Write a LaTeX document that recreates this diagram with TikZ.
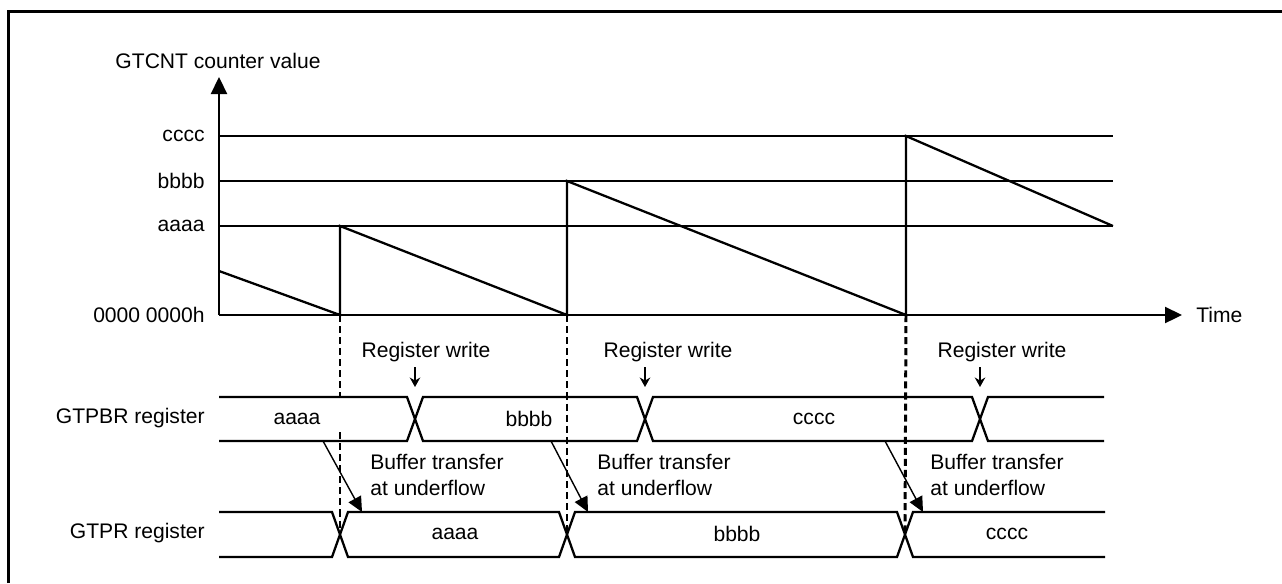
\documentclass[tikz,border=0pt]{standalone}
\usepackage{fontspec}
\setmainfont{Liberation Sans}
\usetikzlibrary{arrows.meta, positioning, calc}

\begin{document}
\begin{tikzpicture}[
  x=0.02cm, y=-0.02cm,
  lbl/.style={font=\fontsize{12}{14.5}\selectfont, inner sep=0pt},
  frame/.style={line width=1.9pt},
  axis/.style={line width=1.3pt, -{Triangle[length=3.4mm, width=3.2mm]}},
  sig/.style={line width=1.3pt, line join=miter},
  ufl/.style={line width=1.7pt, dash pattern=on 4pt off 2.3pt},
  wr/.style={line width=1.3pt, -{Stealth[length=1.9mm, width=2.1mm]}},
  xfer/.style={line width=0.8pt, -{Triangle[length=3mm, width=2.8mm]}}
]
\useasboundingbox (0,0) rectangle (1282,583);
\draw[frame] (8.5,583) -- (8.5,11.5) -- (1282,11.5);

% counter axes
\coordinate (o) at (219,315);
\coordinate (ytip) at (219,77);
\coordinate (xtip) at (1182,315);
\draw[axis] (o) -- (ytip);
\draw[axis] (o) -- (xtip);
\node[lbl] (cntlbl) at (218,61) {GTCNT counter value};
\node[lbl, right=0.28cm of xtip] (time) {Time};
\node[lbl, anchor=east] (lvzero) at (205,315) {0000 0000h};
\foreach \y/\t in {136/cccc, 181/bbbb, 226/aaaa} {
  \node[lbl, anchor=east] (lv\t) at (205,\y) {\t};
  \draw[sig] (219,\y) -- (1113,\y);
}

% underflow points
\coordinate (u1) at (340,315);
\coordinate (u2) at (567,315);
\coordinate (u3) at (906,315);
\draw[sig] (219,271) -- (u1) -- (340,226) -- (u2) -- (567,181) -- (u3)
  -- (906,136) -- (1113,226);

% GTPBR register
\node[lbl, anchor=east] (pbr) at (205,418) {GTPBR register};
\draw[sig] (219,397) -- (407,397) -- (423,441) -- (637,441) -- (653,397)
  -- (972,397) -- (988,441) -- (1104,441);
\draw[sig] (219,441) -- (407,441) -- (423,397) -- (637,397) -- (653,441)
  -- (972,441) -- (988,397) -- (1104,397);
\node[lbl] (pbra) at (297,419) {aaaa};
\node[lbl] (pbrb) at (529,419) {bbbb};
\node[lbl] (pbrc) at (814,419) {cccc};

% GTPR register
\node[lbl, anchor=east] (pr) at (205,533) {GTPR register};
\coordinate (p1) at (340,534.5);
\coordinate (p2) at (567,534.5);
\coordinate (p3) at (905,534.5);
\draw[sig] (219,512) -- (332,512) -- (348,557) -- (559,557) -- (575,512)
  -- (897,512) -- (913,557) -- (1105,557);
\draw[sig] (219,557) -- (332,557) -- (348,512) -- (559,512) -- (575,557)
  -- (897,557) -- (913,512) -- (1105,512);
\node[lbl] (pra) at (455,534) {aaaa};
\node[lbl] (prb) at (737,534) {bbbb};
\node[lbl] (prc) at (1007,534) {cccc};

% underflow markers
\draw[ufl] (u1) -- (340,397);
\draw[ufl] (340,432) -- (p1);
\draw[ufl] (u2) -- (p2);
\draw[ufl] (u3) -- (p3);

% register writes
\foreach \i/\x/\tx in {1/415/426, 2/645/668, 3/980/1002} {
  \node[lbl] (rw\i) at (\tx,352) {Register write};
  \coordinate (w\i) at (\x,397);
  \draw[wr] (\x,367) -- ($(w\i)+(0,-10)$);
}

% buffer transfers
\foreach \i/\a/\b/\tx in {1/323/362/370, 2/551/588/597, 3/885/923/930} {
  \coordinate (bs\i) at (\a,441);
  \coordinate (be\i) at (\b,512);
  \draw[xfer] (bs\i) -- (be\i);
  \node[lbl, anchor=base west, align=left] (bt\i) at (\tx,495)
    {Buffer transfer\\at underflow};
}
\end{tikzpicture}
\end{document}
